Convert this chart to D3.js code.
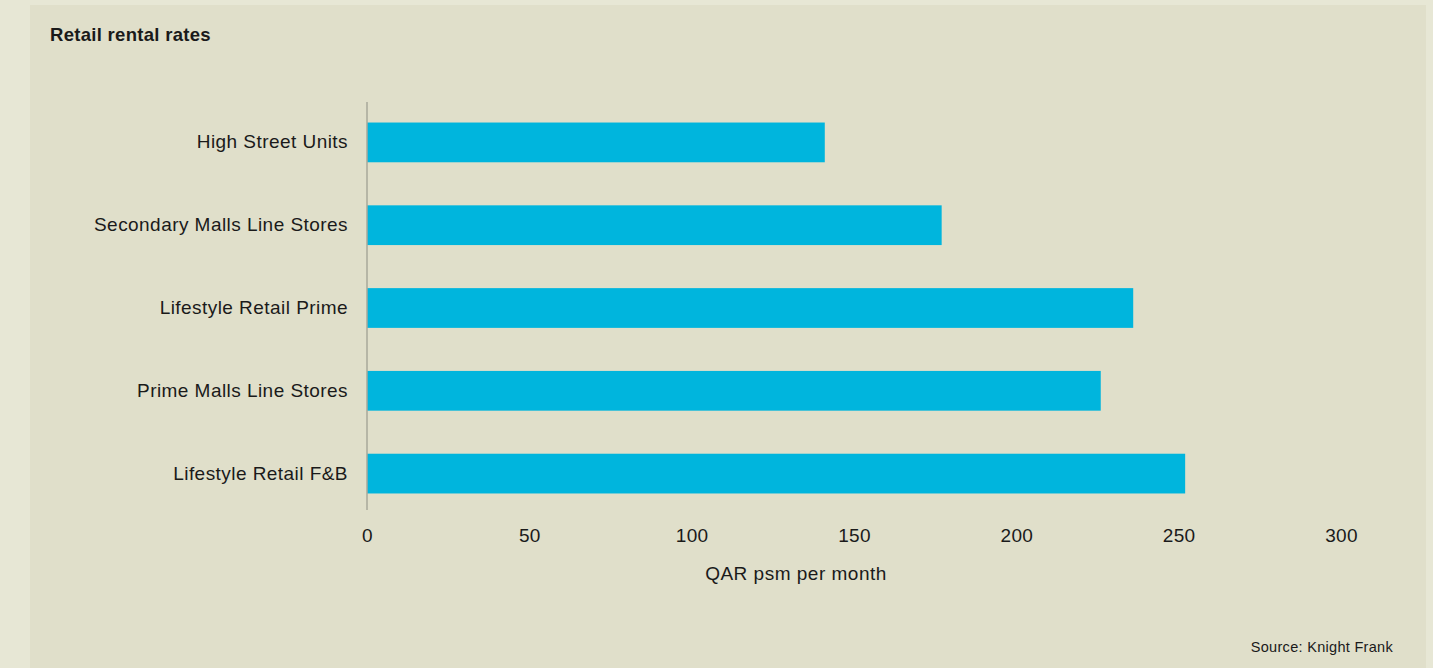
<!DOCTYPE html>
<html><head><meta charset="utf-8">
<script src="https://cdn.jsdelivr.net/npm/d3@7"></script>
<style>
html,body{margin:0;padding:0;background:#e7e7d5;}
svg{display:block;}
text{font-family:"Liberation Sans",Arial,sans-serif;fill:#1a1a1a;}
</style></head><body>
<svg id="c" width="1433" height="668"></svg>
<script>
const categories = ["High Street Units","Secondary Malls Line Stores","Lifestyle Retail Prime","Prime Malls Line Stores","Lifestyle Retail F&B"];
const values = [141, 177, 236, 226, 252];
const xTicks = [0,50,100,150,200,250,300];
const title = "Retail rental rates";
const xTitle = "QAR psm per month";
const source = "Source: Knight Frank";

const FONT = "'Liberation Sans',Arial,sans-serif";
const svg = d3.select("#c");
svg.append("rect").attr("x",30).attr("y",5).attr("width",1396).attr("height",663).attr("fill","#e0dfca");

const x = d3.scaleLinear().domain([0,300]).range([367,1341]);
const y = d3.scaleBand().domain(categories).range([101,515]).paddingInner(0.52).paddingOuter(0.26);

svg.append("text").attr("x",50).attr("y",41).attr("font-size",18.5).attr("font-weight",700)
  .attr("letter-spacing","0.3").text(title);

svg.selectAll("rect.bar").data(categories).join("rect").attr("class","bar")
  .attr("x",x(0)).attr("y",d=>y(d)).attr("height",y.bandwidth())
  .attr("width",(d,i)=>x(values[i])-x(0)).attr("fill","#00b5dd");

svg.append("line").attr("x1",x(0)).attr("x2",x(0)).attr("y1",102).attr("y2",510)
  .attr("stroke","#a9a89a").attr("stroke-width",1.5);

const yAxis = d3.axisLeft(y).tickSize(0).tickPadding(19);
const gy = svg.append("g").attr("transform",`translate(${x(0)},0)`).call(yAxis);
gy.select(".domain").remove();
gy.selectAll("text").attr("font-size",19).attr("letter-spacing","0.45").style("font-family",FONT).attr("fill","#1a1a1a");

const xAxis = d3.axisBottom(x).tickValues(xTicks).tickSize(0).tickPadding(0);
const gx = svg.append("g").attr("transform","translate(0,542)").call(xAxis);
gx.select(".domain").remove();
gx.selectAll("text").attr("font-size",19).attr("letter-spacing","0.3").attr("dy","0").style("font-family",FONT).attr("fill","#1a1a1a");

svg.append("text").attr("x",796).attr("y",580).attr("text-anchor","middle").attr("font-size",19).attr("letter-spacing","0.5").text(xTitle);
svg.append("text").attr("x",1393).attr("y",652).attr("text-anchor","end").attr("font-size",14.5).attr("letter-spacing","0.3").text(source);
</script></body></html>
